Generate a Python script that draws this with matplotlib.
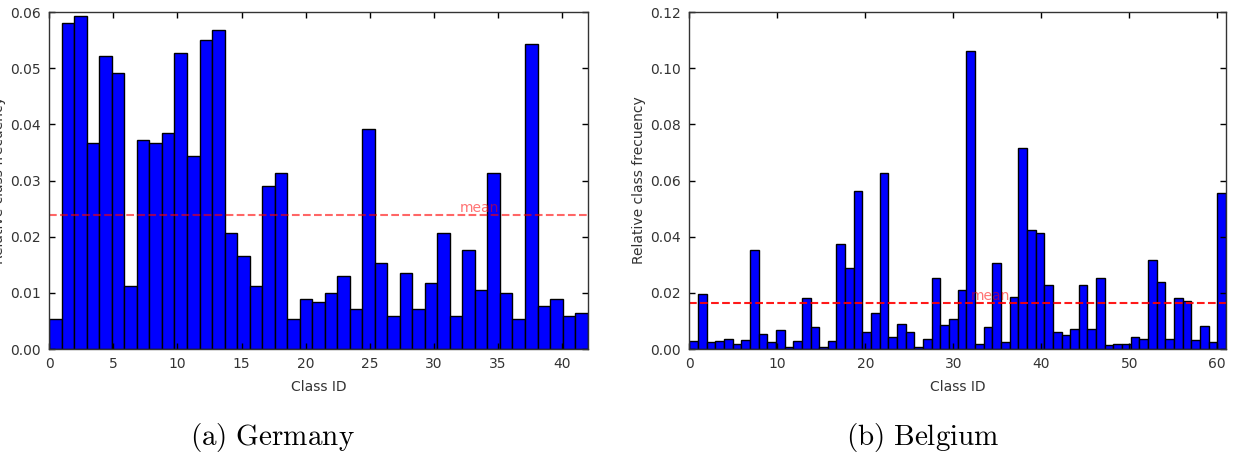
"""Class frequency histograms for the German and Belgian traffic sign sets."""

import numpy as np
import matplotlib
matplotlib.use("Agg")
import matplotlib.pyplot as plt

# relative class frequency per class id
germany_freq = [
    0.0053, 0.0580, 0.0593, 0.0367, 0.0521, 0.0492, 0.0112, 0.0373, 0.0367, 0.0385,
    0.0527, 0.0343, 0.0550, 0.0568, 0.0207, 0.0166, 0.0112, 0.0290, 0.0313, 0.0053,
    0.0089, 0.0083, 0.0100, 0.0130, 0.0071, 0.0391, 0.0154, 0.0059, 0.0136, 0.0071,
    0.0118, 0.0207, 0.0059, 0.0177, 0.0106, 0.0313, 0.0100, 0.0053, 0.0544, 0.0077,
    0.0089, 0.0059, 0.0065,
]
belgium_freq = [
    0.0030, 0.0195, 0.0025, 0.0027, 0.0037, 0.0019, 0.0032, 0.0353, 0.0053, 0.0024,
    0.0067, 0.0007, 0.0028, 0.0183, 0.0080, 0.0009, 0.0027, 0.0374, 0.0289, 0.0564,
    0.0061, 0.0127, 0.0627, 0.0042, 0.0088, 0.0062, 0.0008, 0.0037, 0.0253, 0.0085,
    0.0106, 0.0212, 0.1061, 0.0017, 0.0080, 0.0307, 0.0026, 0.0186, 0.0715, 0.0424,
    0.0414, 0.0228, 0.0062, 0.0051, 0.0072, 0.0227, 0.0070, 0.0254, 0.0013, 0.0018,
    0.0018, 0.0042, 0.0037, 0.0318, 0.0239, 0.0037, 0.0183, 0.0170, 0.0032, 0.0083,
    0.0026, 0.0554,
]
germany_mean = 1 / 42
belgium_mean = 1 / 61
captions = ["(a) Germany", "(b) Belgium"]
germany_xticks = [0, 5, 10, 15, 20, 25, 30, 35, 40]
belgium_xticks = [0, 10, 20, 30, 40, 50, 60]
germany_yticks = [0.00, 0.01, 0.02, 0.03, 0.04, 0.05, 0.06]
belgium_yticks = [0.00, 0.02, 0.04, 0.06, 0.08, 0.10, 0.12]

plt.rcParams["font.family"] = ["DejaVu Sans"]
plt.rcParams["mathtext.fontset"] = "cm"
plt.rcParams["xtick.direction"] = "in"
plt.rcParams["ytick.direction"] = "in"
plt.rcParams["xtick.top"] = True
plt.rcParams["ytick.right"] = True

fig = plt.figure(figsize=(12.36, 4.66), dpi=100)
ax_de = fig.add_axes([0.0399, 0.251, 0.4355, 0.723])
ax_be = fig.add_axes([0.5577, 0.251, 0.4342, 0.723])


def draw(ax, freq, mean, xticks, yticks, line_alpha):
    n = len(freq)
    ids = np.arange(n)
    ax.hist(ids, bins=n, range=(0, n - 1), weights=freq,
            color="#0000ff", edgecolor="black", linewidth=1.0)
    ax.axhline(mean, color="red", linestyle="--", linewidth=1.5, alpha=line_alpha)
    ax.text(32, mean, "mean", color="red", alpha=0.55, fontsize=10, va="bottom")
    ax.set_xlim(0, n - 1)
    ax.set_ylim(yticks[0], yticks[-1])
    ax.set_xticks(xticks)
    ax.set_yticks(yticks)
    ax.set_yticklabels(["%.2f" % t for t in yticks])
    ax.tick_params(labelsize=10, labelcolor="#333333", length=4, width=1, pad=6)
    ax.set_xlabel("Class ID", fontsize=10, color="#333333", labelpad=6)
    ax.set_ylabel("Relative class frecuency", fontsize=10, color="#333333", labelpad=3)
    for sp in ax.spines.values():
        sp.set_linewidth(1.0)
        sp.set_color("#333333")


draw(ax_de, germany_freq, germany_mean, germany_xticks, germany_yticks, 0.6)
draw(ax_be, belgium_freq, belgium_mean, belgium_xticks, belgium_yticks, 0.9)

for xc, cap in zip([0.220, 0.747], captions):
    fig.text(xc, 0.045, r"$\mathrm{" + cap.replace(" ", r"\ ") + "}$",
             ha="center", va="baseline", fontsize=21)

fig.savefig("out.png", dpi=100)
